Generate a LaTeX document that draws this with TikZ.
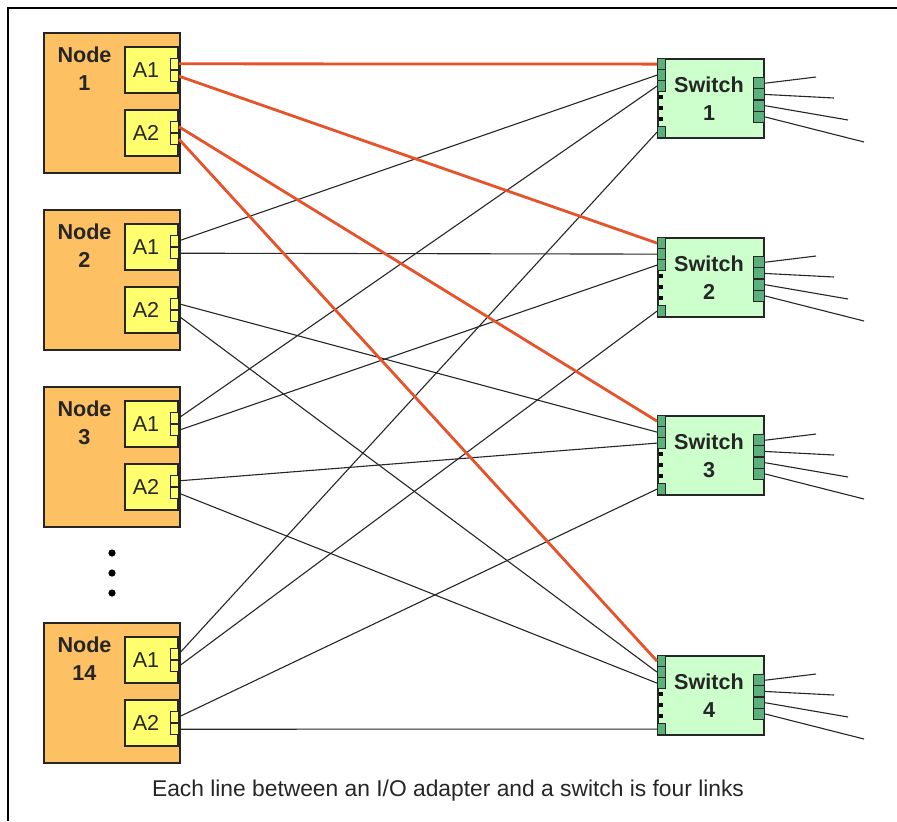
\documentclass[tikz,border=0pt]{standalone}
\usepackage{fontspec}
\setmainfont{Liberation Sans}
\usepackage{xcolor}

\definecolor{nodeorange}{RGB}{253,193,99}
\definecolor{adapteryellow}{RGB}{255,255,110}
\definecolor{switchgreen}{RGB}{204,255,204}
\definecolor{portgreen}{RGB}{92,176,124}
\definecolor{linkred}{RGB}{232,82,42}

\tikzset{
  nodebox/.style={draw=black!85, line width=0.9pt, fill=nodeorange, minimum width=68pt, minimum height=70pt, inner sep=0pt, anchor=north west},
  adapter/.style={draw=black!85, line width=0.8pt, fill=adapteryellow, minimum width=26.5pt, minimum height=23pt, inner sep=0pt, anchor=east},
  aport/.style={draw=black!85, line width=0.7pt, fill=adapteryellow, minimum width=4pt, minimum height=5.5pt, inner sep=0pt},
  switchbox/.style={draw=black!85, line width=0.9pt, fill=switchgreen, minimum width=53pt, minimum height=39.5pt, inner sep=0pt, anchor=north west},
  sport/.style={draw=black!85, line width=0.6pt, fill=portgreen, minimum width=4pt, minimum height=5.5pt, inner sep=0pt, anchor=north west},
  qport/.style={draw=black!85, line width=0.6pt, fill=portgreen, minimum width=5.5pt, minimum height=5.6pt, inner sep=0pt, anchor=north west},
  sdot/.style={fill=black, minimum size=2pt, inner sep=0pt},
  vdot/.style={circle, fill=black, minimum size=3.6pt, inner sep=0pt},
  boldlabel/.style={font=\fontsize{10.8}{14}\selectfont\bfseries, align=center, text=black!85, inner sep=0pt},
  adaptertext/.style={font=\fontsize{10.8}{12}\selectfont, text=black!85, inner sep=0pt},
  link/.style={line width=0.55pt, black!85},
  redlink/.style={line width=1.4pt, linkred},
}

\begin{document}
\begin{tikzpicture}[x=0.5pt,y=-0.5pt]
\useasboundingbox (0,0) rectangle (897,821);
\draw[line width=1pt] (8,821) -- (8,8) -- (897,8);

% compute nodes with their two adapters
\foreach \nn/\ty in {1/32,2/209,3/386,14/622}{
  \node[nodebox] (n\nn) at (43,\ty) {};
  \node[boldlabel] (lbln\nn) at (84.5,\ty+37) {Node\\\nn};
  \node[adapter] (n\nn a1) at (179,\ty+38) {};
  \node[adapter] (n\nn a2) at (179,\ty+101) {};
  \node[adaptertext] (txtn\nn a1) at (146,\ty+38) {A1};
  \node[adaptertext] (txtn\nn a2) at (146,\ty+101) {A2};
  \node[aport, anchor=south east] (n\nn a1u) at (179,\ty+38) {};
  \node[aport, anchor=north east] (n\nn a1d) at (179,\ty+38) {};
  \node[aport, anchor=south east] (n\nn a2u) at (179,\ty+101) {};
  \node[aport, anchor=north east] (n\nn a2d) at (179,\ty+101) {};
}
\foreach \i/\dy in {1/553,2/573,3/593}
  \node[vdot] (vdot\i) at (112,\dy) {};

% switches
\foreach \s/\ty in {1/58,2/237,3/415,4/655}{
  \node[switchbox] (s\s) at (657,\ty) {};
  \node[boldlabel] (lbls\s) at (709,\ty+41) {Switch\\\s};
  \foreach \p/\o in {1/0,2/11,3/22,4/68}
    \node[sport] (s\s p\p) at (657,\ty+\o) {};
  \foreach \o in {39,50,61}
    \node[sdot] (s\s d\o) at (661,\ty+\o) {};
  \foreach \p/\o/\ex/\ey in {1/19/816/19,2/30.25/834/40,3/41.5/848/62,4/52.75/864/84}{
    \node[qport] (s\s q\p) at (753,\ty+\o) {};
    \coordinate (s\s o\p) at (\ex,\ty+\ey);
    \draw[link] (s\s q\p.east) -- (s\s o\p);
  }
}

\draw[link] (n2a1u.east) -- (s1p2.west);
\draw[link] (n2a1d.east) -- (s2p2.west);
\draw[link] (n2a2u.east) -- (s3p2.west);
\draw[link] (n2a2d.east) -- (s4p2.west);
\draw[link] (n3a1u.east) -- (s1p3.west);
\draw[link] (n3a1d.east) -- (s2p3.west);
\draw[link] (n3a2u.east) -- (s3p3.west);
\draw[link] (n3a2d.east) -- (s4p3.west);
\draw[link] (n14a1u.east) -- (s1p4.west);
\draw[link] (n14a1d.east) -- (s2p4.west);
\draw[link] (n14a2u.east) -- (s3p4.west);
\draw[link] (n14a2d.east) -- (s4p4.west);

\draw[redlink] (n1a1u.east) -- (s1p1.west);
\draw[redlink] (n1a1d.east) -- (s2p1.west);
\draw[redlink] (n1a2u.east) -- (s3p1.west);
\draw[redlink] (n1a2d.east) -- (s4p1.west);

\node[font=\fontsize{11.4}{13}\selectfont, text=black!85] (caption) at (448,791)
  {Each line between an I/O adapter and a switch is four links};
\end{tikzpicture}
\end{document}
